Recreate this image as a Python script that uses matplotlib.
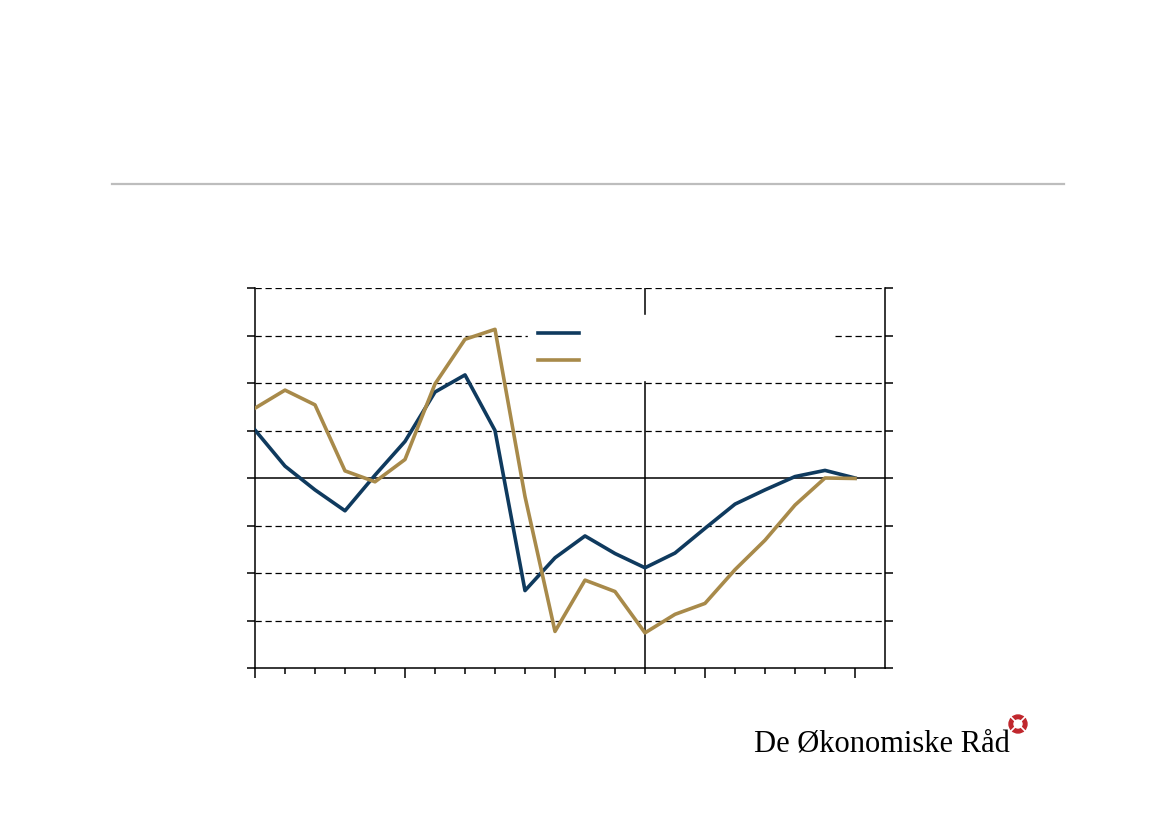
import numpy as np
import matplotlib
matplotlib.use("Agg")
import matplotlib.pyplot as plt
from matplotlib.patches import Circle

# periods on the x axis (index positions)
periods = np.arange(21)
series_blue = [1.01, 0.25, -0.25, -0.69, 0.06, 0.77, 1.81, 2.17, 1.00, -2.37, -1.68,
               -1.22, -1.59, -1.89, -1.58, -1.06, -0.55, -0.25, 0.03, 0.16, 0.00]
series_gold = [1.47, 1.85, 1.54, 0.15, -0.08, 0.39, 1.98, 2.92, 3.13, -0.39, -3.23,
               -2.15, -2.39, -3.26, -2.87, -2.64, -1.93, -1.31, -0.57, 0.00, -0.01]
y_ticks = [-4, -3, -2, -1, 0, 1, 2, 3, 4]
split_period = 13

blue = "#0f3a5e"
gold = "#a88a4a"

fig = plt.figure(figsize=(11.69, 8.26), dpi=100)

# grey rule under the (empty) header
fig.add_artist(plt.Line2D([112 / 1169, 1064 / 1169], [1 - 184 / 826] * 2,
                          color="#bdbdbd", lw=1.6))

ax = fig.add_axes([255 / 1169, 1 - 668 / 826, 630 / 1169, 380 / 826])
ax.set_xlim(0, 21)
ax.set_ylim(-4, 4)

for y in y_ticks:
    if y == 0:
        ax.axhline(y, color="black", lw=1.1, zorder=1)
    elif y != -4:
        ax.axhline(y, color="black", lw=0.9, linestyle=(0, (5, 3)), zorder=1)
ax.axvline(split_period, color="black", lw=1.1, zorder=1)

ax.plot(periods, series_blue, color=blue, lw=2.6, zorder=3, label=" ")
ax.plot(periods, series_gold, color=gold, lw=2.6, zorder=3, label=" ")

ax.spines["top"].set_visible(False)
for s in ["left", "right", "bottom"]:
    ax.spines[s].set_linewidth(1.1)
    ax.spines[s].set_color("black")

ax.set_yticks(y_ticks)
ax.set_xticks([0, 5, 10, 15, 20])
ax.set_xticks(periods, minor=True)
ax.tick_params(axis="y", left=True, right=True, direction="out", length=6,
               width=1.1, labelleft=False, labelright=False)
ax.tick_params(axis="x", which="major", direction="out", length=7, width=1.1,
               labelbottom=False)
ax.tick_params(axis="x", which="minor", direction="out", length=4, width=1.1)

leg = ax.legend(loc="upper left", bbox_to_anchor=(0.433, 0.829, 0.483, 0.1),
                mode="expand", frameon=True, facecolor="white", edgecolor="white",
                framealpha=1, fancybox=False, borderaxespad=0, fontsize=12,
                handlelength=2.45, labelspacing=0.55, borderpad=0.6)
for t in leg.get_texts():
    t.set_color("white")
leg.set_zorder(5)

# logo
fig.text(754 / 1169, 1 - 752 / 826, "De Økonomiske Råd", fontsize=22,
         family="Liberation Serif", color="black", ha="left", va="baseline")
fig.add_artist(Circle((1018, 826 - 724), 9, color="#c0272d",
                      transform=None))
for dx, dy in [(1, 1), (1, -1)]:
    fig.add_artist(plt.Line2D([1018 - 9 * dx, 1018 + 9 * dx],
                              [826 - 724 - 9 * dy, 826 - 724 + 9 * dy],
                              color="white", lw=1.2, transform=None))
fig.add_artist(Circle((1018, 826 - 724), 4, color="white", transform=None))

fig.savefig("out.png", dpi=100)
